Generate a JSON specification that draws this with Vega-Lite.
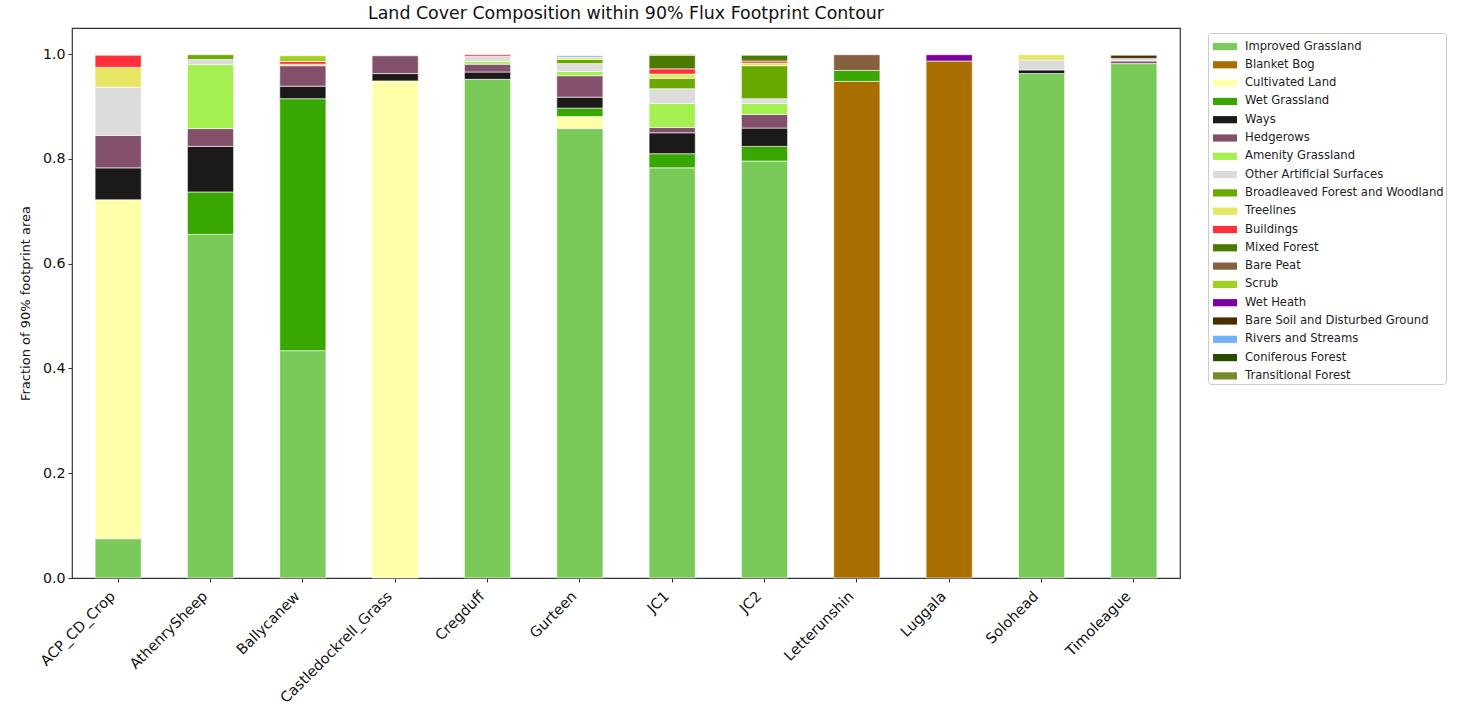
{
  "$schema": "https://vega.github.io/schema/vega-lite/v6.json",
  "autosize": {"type": "none"},
  "padding": {"left": 72, "top": 28, "right": 277, "bottom": 128},
  "width": 1108,
  "height": 550,
  "background": "white",
  "config": {
    "font": "DejaVu Sans",
    "view": {"stroke": "#333333", "strokeWidth": 1.2},
    "axis": {"domainColor": "#333333", "tickColor": "#333333", "labelColor": "#111111", "titleColor": "#111111", "grid": false}
  },
  "title": {"text": "Land Cover Composition within 90% Flux Footprint Contour", "fontSize": 17.4, "fontWeight": "normal", "font": "DejaVu Sans", "color": "#111111", "anchor": "middle", "offset": 6},
  "data": {"values": [
    {"site": "ACP_CD_Crop", "cover": "Improved Grassland", "frac": 0.075},
    {"site": "ACP_CD_Crop", "cover": "Cultivated Land", "frac": 0.647},
    {"site": "ACP_CD_Crop", "cover": "Ways", "frac": 0.061},
    {"site": "ACP_CD_Crop", "cover": "Hedgerows", "frac": 0.062},
    {"site": "ACP_CD_Crop", "cover": "Other Artificial Surfaces", "frac": 0.092},
    {"site": "ACP_CD_Crop", "cover": "Treelines", "frac": 0.038},
    {"site": "ACP_CD_Crop", "cover": "Buildings", "frac": 0.023},
    {"site": "AthenrySheep", "cover": "Improved Grassland", "frac": 0.656},
    {"site": "AthenrySheep", "cover": "Wet Grassland", "frac": 0.081},
    {"site": "AthenrySheep", "cover": "Ways", "frac": 0.087},
    {"site": "AthenrySheep", "cover": "Hedgerows", "frac": 0.034},
    {"site": "AthenrySheep", "cover": "Amenity Grassland", "frac": 0.122},
    {"site": "AthenrySheep", "cover": "Other Artificial Surfaces", "frac": 0.010},
    {"site": "AthenrySheep", "cover": "Broadleaved Forest and Woodland", "frac": 0.009},
    {"site": "Ballycanew", "cover": "Improved Grassland", "frac": 0.434},
    {"site": "Ballycanew", "cover": "Wet Grassland", "frac": 0.481},
    {"site": "Ballycanew", "cover": "Ways", "frac": 0.024},
    {"site": "Ballycanew", "cover": "Hedgerows", "frac": 0.039},
    {"site": "Ballycanew", "cover": "Treelines", "frac": 0.003},
    {"site": "Ballycanew", "cover": "Buildings", "frac": 0.005},
    {"site": "Ballycanew", "cover": "Scrub", "frac": 0.011},
    {"site": "Castledockrell_Grass", "cover": "Cultivated Land", "frac": 0.949},
    {"site": "Castledockrell_Grass", "cover": "Ways", "frac": 0.014},
    {"site": "Castledockrell_Grass", "cover": "Hedgerows", "frac": 0.034},
    {"site": "Cregduff", "cover": "Improved Grassland", "frac": 0.952},
    {"site": "Cregduff", "cover": "Ways", "frac": 0.014},
    {"site": "Cregduff", "cover": "Hedgerows", "frac": 0.015},
    {"site": "Cregduff", "cover": "Amenity Grassland", "frac": 0.005},
    {"site": "Cregduff", "cover": "Other Artificial Surfaces", "frac": 0.010},
    {"site": "Cregduff", "cover": "Buildings", "frac": 0.003},
    {"site": "Gurteen", "cover": "Improved Grassland", "frac": 0.858},
    {"site": "Gurteen", "cover": "Cultivated Land", "frac": 0.023},
    {"site": "Gurteen", "cover": "Wet Grassland", "frac": 0.016},
    {"site": "Gurteen", "cover": "Ways", "frac": 0.021},
    {"site": "Gurteen", "cover": "Hedgerows", "frac": 0.041},
    {"site": "Gurteen", "cover": "Amenity Grassland", "frac": 0.008},
    {"site": "Gurteen", "cover": "Other Artificial Surfaces", "frac": 0.015},
    {"site": "Gurteen", "cover": "Broadleaved Forest and Woodland", "frac": 0.008},
    {"site": "Gurteen", "cover": "Treelines", "frac": 0.004},
    {"site": "Gurteen", "cover": "Rivers and Streams", "frac": 0.003},
    {"site": "JC1", "cover": "Improved Grassland", "frac": 0.783},
    {"site": "JC1", "cover": "Wet Grassland", "frac": 0.027},
    {"site": "JC1", "cover": "Ways", "frac": 0.040},
    {"site": "JC1", "cover": "Hedgerows", "frac": 0.010},
    {"site": "JC1", "cover": "Amenity Grassland", "frac": 0.046},
    {"site": "JC1", "cover": "Other Artificial Surfaces", "frac": 0.028},
    {"site": "JC1", "cover": "Broadleaved Forest and Woodland", "frac": 0.020},
    {"site": "JC1", "cover": "Treelines", "frac": 0.008},
    {"site": "JC1", "cover": "Buildings", "frac": 0.010},
    {"site": "JC1", "cover": "Mixed Forest", "frac": 0.026},
    {"site": "JC1", "cover": "Scrub", "frac": 0.002},
    {"site": "JC2", "cover": "Improved Grassland", "frac": 0.796},
    {"site": "JC2", "cover": "Wet Grassland", "frac": 0.028},
    {"site": "JC2", "cover": "Ways", "frac": 0.035},
    {"site": "JC2", "cover": "Hedgerows", "frac": 0.026},
    {"site": "JC2", "cover": "Amenity Grassland", "frac": 0.021},
    {"site": "JC2", "cover": "Other Artificial Surfaces", "frac": 0.009},
    {"site": "JC2", "cover": "Broadleaved Forest and Woodland", "frac": 0.063},
    {"site": "JC2", "cover": "Treelines", "frac": 0.005},
    {"site": "JC2", "cover": "Buildings", "frac": 0.004},
    {"site": "JC2", "cover": "Mixed Forest", "frac": 0.011},
    {"site": "Letterunshin", "cover": "Blanket Bog", "frac": 0.948},
    {"site": "Letterunshin", "cover": "Wet Grassland", "frac": 0.021},
    {"site": "Letterunshin", "cover": "Bare Peat", "frac": 0.030},
    {"site": "Luggala", "cover": "Blanket Bog", "frac": 0.987},
    {"site": "Luggala", "cover": "Wet Heath", "frac": 0.012},
    {"site": "Solohead", "cover": "Improved Grassland", "frac": 0.963},
    {"site": "Solohead", "cover": "Ways", "frac": 0.007},
    {"site": "Solohead", "cover": "Other Artificial Surfaces", "frac": 0.019},
    {"site": "Solohead", "cover": "Treelines", "frac": 0.010},
    {"site": "Timoleague", "cover": "Improved Grassland", "frac": 0.982},
    {"site": "Timoleague", "cover": "Hedgerows", "frac": 0.005},
    {"site": "Timoleague", "cover": "Other Artificial Surfaces", "frac": 0.005},
    {"site": "Timoleague", "cover": "Bare Soil and Disturbed Ground", "frac": 0.006}
  ]},
  "transform": [
    {"calculate": "indexof(['Improved Grassland', 'Blanket Bog', 'Cultivated Land', 'Wet Grassland', 'Ways', 'Hedgerows', 'Amenity Grassland', 'Other Artificial Surfaces', 'Broadleaved Forest and Woodland', 'Treelines', 'Buildings', 'Mixed Forest', 'Bare Peat', 'Scrub', 'Wet Heath', 'Bare Soil and Disturbed Ground', 'Rivers and Streams', 'Coniferous Forest', 'Transitional Forest'], datum.cover)", "as": "stack_rank"}
  ],
  "mark": {"type": "bar", "stroke": "white", "strokeWidth": 0.6},
  "encoding": {
    "x": {
      "field": "site", "type": "nominal", "sort": null,
      "scale": {"paddingInner": 0.5, "paddingOuter": 0.25},
      "axis": {"title": null, "labelAngle": -45, "labelAlign": "right", "labelBaseline": "top", "labelFontSize": 14.5, "labelPadding": 7, "labelOffset": -10, "tickSize": 4, "domain": false}
    },
    "y": {
      "field": "frac", "type": "quantitative", "stack": "zero",
      "scale": {"domain": [0, 1.05], "nice": false},
      "axis": {"title": "Fraction of 90% footprint area", "titleFontSize": 13, "titleFontWeight": "normal", "titlePadding": 10, "labelFontSize": 14.2, "values": [0, 0.2, 0.4, 0.6, 0.8, 1.0], "format": ".1f", "tickSize": 4, "labelPadding": 3, "domain": false}
    },
    "order": {"field": "stack_rank", "type": "quantitative", "sort": "ascending"},
    "color": {
      "field": "cover", "type": "nominal",
      "scale": {
        "domain": ["Improved Grassland", "Blanket Bog", "Cultivated Land", "Wet Grassland", "Ways", "Hedgerows", "Amenity Grassland", "Other Artificial Surfaces", "Broadleaved Forest and Woodland", "Treelines", "Buildings", "Mixed Forest", "Bare Peat", "Scrub", "Wet Heath", "Bare Soil and Disturbed Ground", "Rivers and Streams", "Coniferous Forest", "Transitional Forest"],
        "range": ["#7aca5a", "#a86f00", "#ffffaa", "#38a800", "#1c1919", "#82506a", "#a4f050", "#dcdcdc", "#6aaa00", "#e6e664", "#ff3039", "#4c7a00", "#86603f", "#a2d020", "#7a00a0", "#4a2e00", "#73b2ff", "#264d00", "#758c28"]
      },
      "legend": {
        "title": null, "orient": "none", "legendX": 1136, "legendY": 5,
        "padding": 1.5, "strokeColor": "#cccccc", "cornerRadius": 3, "fillColor": "white",
        "symbolType": "M-1,-0.3H1V0.3H-1Z", "symbolSize": 576, "symbolStrokeWidth": 0, "symbolOpacity": 1, "symbolOffset": 3.5,
        "labelFontSize": 11.6, "labelColor": "#222222", "labelOffset": 8, "rowPadding": 0.3, "labelLimit": 300
      }
    }
  }
}
